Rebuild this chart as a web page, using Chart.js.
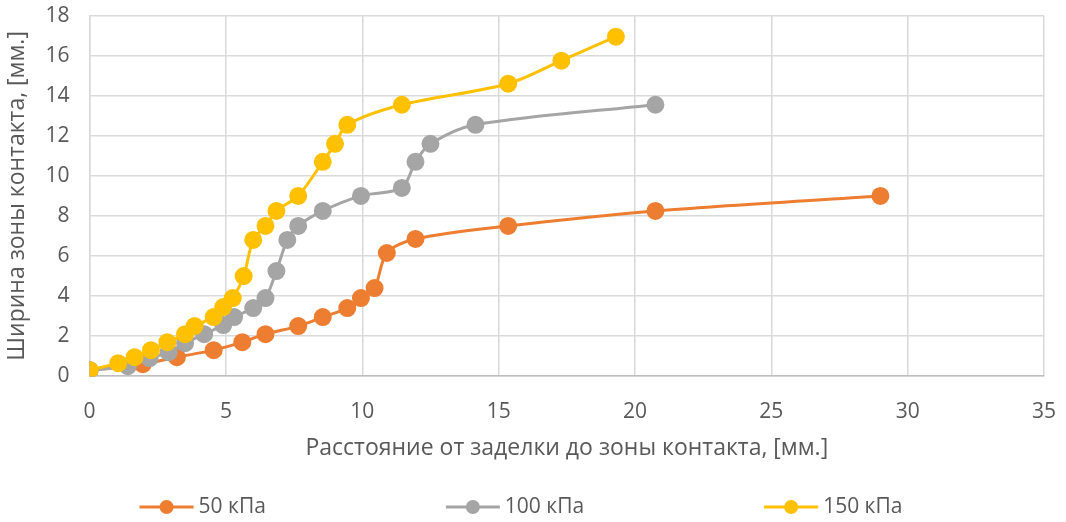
<!DOCTYPE html>
<html>
<head>
<meta charset="utf-8">
<script src="https://cdn.jsdelivr.net/npm/chart.js@4.4.1/dist/chart.umd.min.js"></script>
<style>
    html, body { margin: 0; padding: 0; background: #fff; }
    #wrap { width: 1066px; height: 522px; position: relative; }
</style>
</head>
<body>
<div id="wrap"><canvas id="linegraph"></canvas></div>
<script>
// series: distance from fixing [mm] / contact width [mm]
var seriesNames = ['50 кПа', '100 кПа', '150 кПа'];

var x50 = [0, 1.95, 3.2, 4.55, 5.6, 6.45, 7.65, 8.55, 9.45, 9.95, 10.45, 10.9, 11.95, 15.35, 20.75, 29.0];
var y50 = [0.3, 0.6, 0.95, 1.3, 1.7, 2.1, 2.5, 2.95, 3.4, 3.9, 4.4, 6.15, 6.85, 7.5, 8.25, 9.0];

var x100 = [0, 1.4, 2.2, 2.9, 3.5, 4.2, 4.9, 5.3, 6.0, 6.45, 6.85, 7.25, 7.65, 8.55, 9.95, 11.45, 11.95, 12.5, 14.15, 20.75];
var y100 = [0.3, 0.5, 0.9, 1.2, 1.65, 2.1, 2.55, 2.95, 3.4, 3.9, 5.25, 6.8, 7.5, 8.25, 9.0, 9.4, 10.7, 11.6, 12.55, 13.55];

var x150 = [0, 1.05, 1.65, 2.25, 2.85, 3.5, 3.85, 4.55, 4.9, 5.25, 5.65, 6.0, 6.45, 6.85, 7.65, 8.55, 9.0, 9.45, 11.45, 15.35, 17.3, 19.3];
var y150 = [0.3, 0.65, 0.95, 1.3, 1.7, 2.1, 2.5, 2.95, 3.45, 3.9, 5.0, 6.8, 7.5, 8.25, 9.0, 10.7, 11.6, 12.55, 13.55, 14.6, 15.75, 16.95];

var xTicks = [0, 5, 10, 15, 20, 25, 30, 35];
var yTicks = [0, 2, 4, 6, 8, 10, 12, 14, 16, 18];

var colors = ['#ED7D31', '#A5A5A5', '#FFC000'];
var textColor = '#595959';
var fontFamily = '"Open Sans", "Noto Sans", sans-serif';

function toPoints(xs, ys) {
    return xs.map(function(x, i) { return { x: x, y: ys[i] }; });
}

function makeSet(i, xs, ys) {
    return {
        label: seriesNames[i],
        data: toPoints(xs, ys),
        borderColor: colors[i],
        backgroundColor: colors[i],
        pointBackgroundColor: colors[i],
        pointBorderColor: colors[i],
        borderWidth: 3,
        pointRadius: 7.5,
        pointHoverRadius: 7.5,
        tension: 0.3,
        fill: false,
        order: 3 - i   // later series on top, like Excel
    };
}

// legend drawn by hand: line with a dot, wide gaps like in Excel
var lineLegend = {
    id: 'lineLegend',
    afterDraw: function(chart) {
        var ctx = chart.ctx;
        var lineLen = 54, gapText = 5, gapItem = 180, cy = 507;
        ctx.save();
        ctx.font = '21px ' + fontFamily;
        ctx.textBaseline = 'middle';
        var widths = chart.data.datasets.map(function(ds) {
            return lineLen + gapText + ctx.measureText(ds.label).width;
        });
        var total = widths.reduce(function(a, b) { return a + b; }, 0) + gapItem * (widths.length - 1);
        var x = (chart.width - total) / 2 - 12;
        chart.data.datasets.forEach(function(ds, i) {
            ctx.strokeStyle = colors[i];
            ctx.lineWidth = 3;
            ctx.beginPath();
            ctx.moveTo(x, cy);
            ctx.lineTo(x + lineLen, cy);
            ctx.stroke();
            ctx.fillStyle = colors[i];
            ctx.beginPath();
            ctx.arc(x + lineLen / 2, cy, 7, 0, Math.PI * 2);
            ctx.fill();
            ctx.fillStyle = textColor;
            ctx.fillText(ds.label, x + lineLen + gapText, cy);
            x += widths[i] + gapItem;
        });
        ctx.restore();
    }
};

var ctx = document.getElementById('linegraph').getContext('2d');
window.myLine = new Chart(ctx, {
    type: 'line',
    data: {
        datasets: [makeSet(0, x50, y50), makeSet(1, x100, y100), makeSet(2, x150, y150)]
    },
    plugins: [lineLegend],
    options: {
        responsive: true,
        maintainAspectRatio: false,
        animation: false,
        layout: {
            padding: { left: 4, right: 0, top: 0, bottom: 56 }
        },
        plugins: {
            tooltip: { enabled: false },
            legend: { display: false }
        },
        scales: {
            x: {
                type: 'linear',
                min: 0,
                max: 35,
                afterBuildTicks: function(axis) {
                    axis.ticks = xTicks.map(function(v) { return { value: v }; });
                },
                grid: { color: '#D9D9D9', lineWidth: 1.5, drawTicks: true, tickLength: 13, tickColor: 'rgba(0,0,0,0)' },
                border: { color: '#BFBFBF', width: 1.5 },
                ticks: {
                    padding: 10,
                    color: textColor,
                    font: { family: fontFamily, size: 21 }
                },
                title: {
                    display: true,
                    text: 'Расстояние от заделки до зоны контакта, [мм.]',
                    color: textColor,
                    font: { family: fontFamily, size: 23 },
                    padding: { top: 0, bottom: 4 }
                }
            },
            y: {
                min: 0,
                max: 18,
                afterBuildTicks: function(axis) {
                    axis.ticks = yTicks.map(function(v) { return { value: v }; });
                },
                grid: { color: '#D9D9D9', lineWidth: 1.5, drawTicks: true, tickLength: 17, tickColor: 'rgba(0,0,0,0)' },
                border: { color: '#D9D9D9', width: 1.5 },
                ticks: {
                    padding: 3,
                    color: textColor,
                    font: { family: fontFamily, size: 21 }
                },
                title: {
                    display: true,
                    text: 'Ширина зоны контакта, [мм.]',
                    color: textColor,
                    font: { family: fontFamily, size: 23 },
                    padding: { top: 0, bottom: 11 }
                }
            }
        }
    }
});
</script>
</body>
</html>
